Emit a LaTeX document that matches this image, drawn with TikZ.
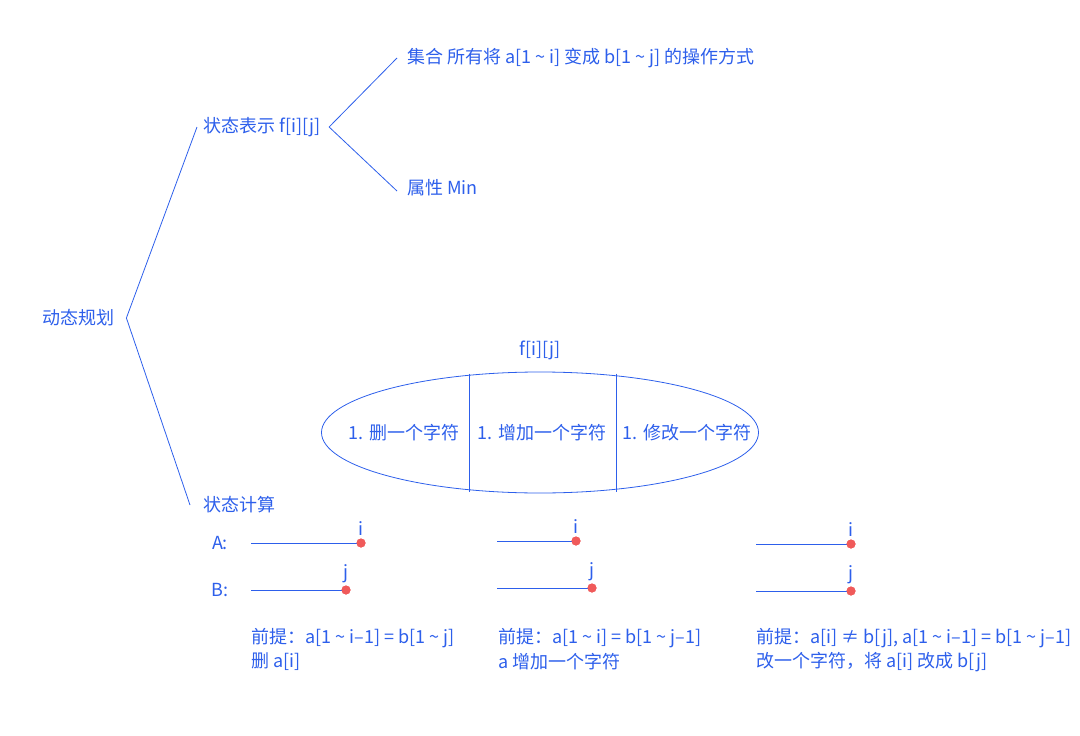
\documentclass[tikz,border=0pt]{standalone}
\usepackage{fontspec}
\setmainfont{Noto Sans CJK SC}
\usepackage{tikz}
\usetikzlibrary{positioning,calc,shapes.geometric}
\definecolor{mainblue}{RGB}{45,95,235}
\definecolor{dotred}{RGB}{240,90,90}
\newcommand{\tld}{\textasciitilde}

\begin{document}
\begin{tikzpicture}[
    x=1pt, y=-1pt,
    txt/.style={anchor=west, inner sep=0pt, text=mainblue, font=\fontsize{18}{21}\selectfont},
    ctxt/.style={inner sep=0pt, text=mainblue, font=\fontsize{18}{21}\selectfont},
    idx/.style={text=mainblue, font=\fontsize{18}{21}\selectfont, label distance=-1pt},
    branch/.style={draw=mainblue, line width=0.8pt},
    seg/.style={draw=mainblue, line width=0.9pt},
    dot/.style={circle, fill=dotred, inner sep=0pt, minimum size=9pt}
]
\useasboundingbox (0,0) rectangle (1080,736);

% Tree
\node[txt] (dp) at (42,318) {动态规划};
\node[txt] (repr) at (203,127) {状态表示 f[i][j]};
\node[txt] (calc) at (203,505) {状态计算};
\node[txt] (set) at (407,58) {集合 所有将 a[1 \tld{} i] 变成 b[1 \tld{} j] 的操作方式};
\node[txt] (attr) at (407,188) {属性 Min};

\coordinate (dpApex) at ([xshift=12pt]dp.east);
\coordinate (reprApex) at ([xshift=8pt]repr.east);

\draw[branch] ([xshift=-6pt]repr.west) -- (dpApex) -- ([xshift=-13pt]calc.west);
\draw[branch] ([xshift=-10pt]set.west) -- (reprApex) -- ([xshift=-10pt,yshift=-3pt]attr.west);

% Transition set
\node[draw=mainblue, line width=0.8pt, ellipse, minimum width=437pt, minimum height=121pt, inner sep=0pt] (ell) at (540,432.5) {};
\node[ctxt, above=12pt of ell] (fij) {f[i][j]};
\draw[branch] ($(ell.center)+(-71,-59)$) -- ($(ell.center)+(-71,59)$);
\draw[branch] ($(ell.center)+(76,-59)$) -- ($(ell.center)+(76,59)$);
\node[ctxt] (del) at (404,433) {1. 删一个字符};
\node[ctxt] (ins) at (542,433) {1. 增加一个字符};
\node[ctxt] (mod) at (687,433) {1. 修改一个字符};

% Strings
\node[ctxt] (rowA) at (220,543) {A:};
\node[ctxt] (rowB) at (220,590) {B:};

\coordinate (a1s) at (251,543);
\node[dot, label={[idx]above:i}] (a1e) at (361,543) {};
\coordinate (b1s) at (251,590);
\node[dot, label={[idx]above:j}] (b1e) at (346,590) {};
\coordinate (a2s) at (497,541);
\node[dot, label={[idx]above:i}] (a2e) at (576,541) {};
\coordinate (b2s) at (497,588);
\node[dot, label={[idx]above:j}] (b2e) at (592,588) {};
\coordinate (a3s) at (756,544);
\node[dot, label={[idx]above:i}] (a3e) at (851,544) {};
\coordinate (b3s) at (756,591);
\node[dot, label={[idx]above:j}] (b3e) at (851,591) {};

\draw[seg] (a1s) -- (a1e.center);
\draw[seg] (b1s) -- (b1e.center);
\draw[seg] (a2s) -- (a2e.center);
\draw[seg] (b2s) -- (b2e.center);
\draw[seg] (a3s) -- (a3e.center);
\draw[seg] (b3s) -- (b3e.center);
\node[dot] at (a1e) {};
\node[dot] at (b1e) {};
\node[dot] at (a2e) {};
\node[dot] at (b2e) {};
\node[dot] at (a3e) {};
\node[dot] at (b3e) {};

% Conditions
\node[txt] (cond1) at (251,638) {前提：a[1 \tld{} i–1] = b[1 \tld{} j]};
\node[txt] (op1) at (251,662) {删 a[i]};
\node[txt] (cond2) at (498,638) {前提：a[1 \tld{} i] = b[1 \tld{} j–1]};
\node[txt] (op2) at (498,662) {a 增加一个字符};
\node[txt] (cond3) at (756,638) {前提：a[i] ≠ b[j], a[1 \tld{} i–1] = b[1 \tld{} j–1]};
\node[txt] (op3) at (756,662) {改一个字符，将 a[i] 改成 b[j]};

\end{tikzpicture}
\end{document}
